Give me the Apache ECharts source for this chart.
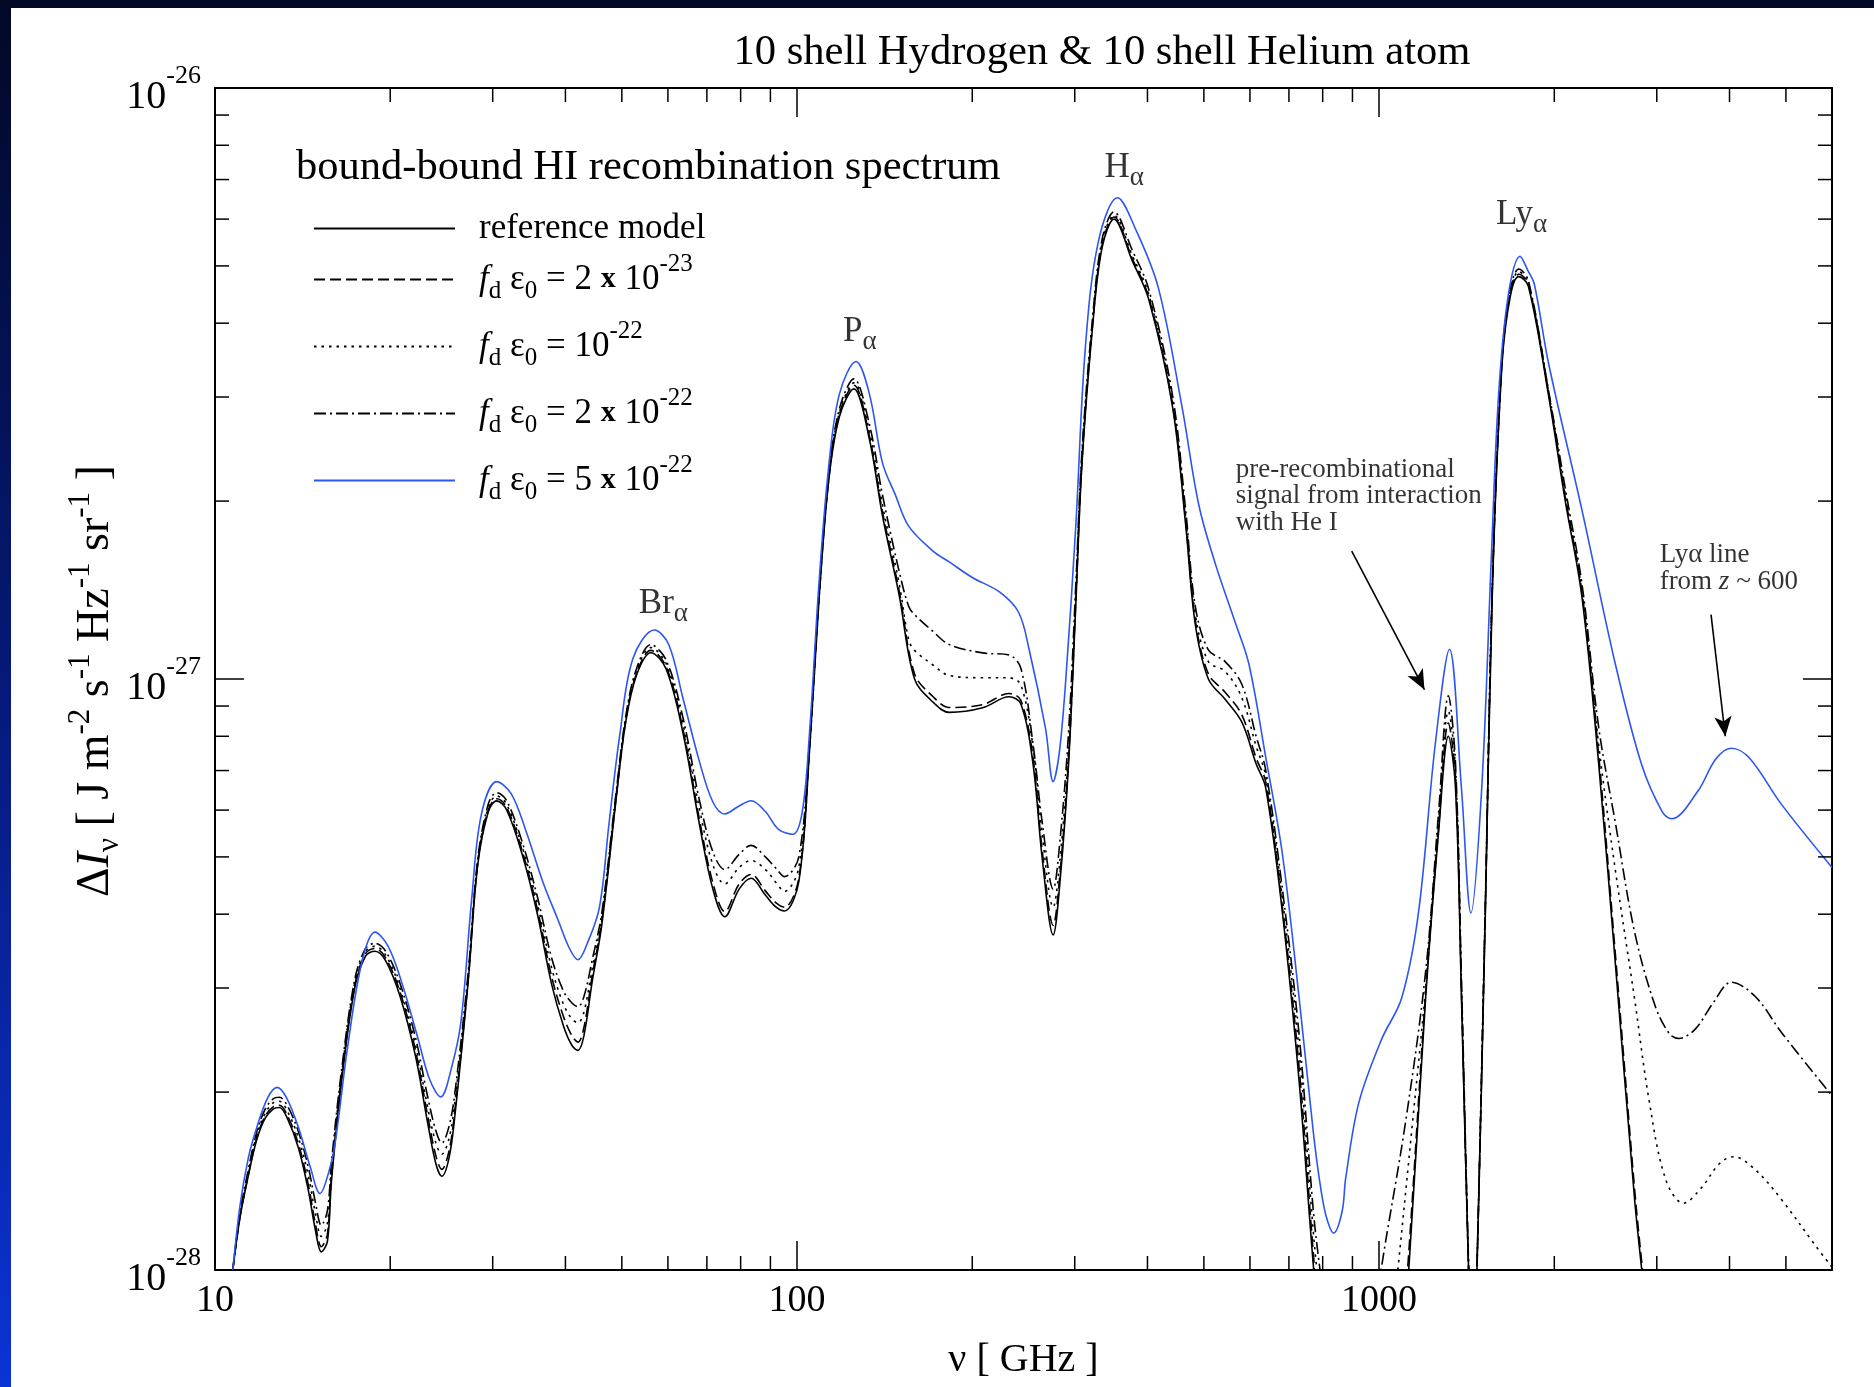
<!DOCTYPE html>
<html><head><meta charset="utf-8">
<script src="https://cdn.jsdelivr.net/npm/echarts@6/dist/echarts.min.js"></script>
<style>html,body{margin:0;padding:0;background:#fff}#c{width:1874px;height:1387px}</style>
</head><body><div id="c"></div>
<script>
// nu in GHz ; Delta I_nu in units of 1e-27 J m^-2 s^-1 Hz^-1 sr^-1
const refModel = [[10.73,0.100],[11.04,0.1227],[11.41,0.1444],[11.79,0.1659],[12.19,0.1805],[12.60,0.1874],[12.90,0.1884],[13.34,0.1798],[13.92,0.1606],[14.45,0.1372],[14.87,0.1171],[15.23,0.1073],[15.60,0.1118],[15.85,0.1411],[16.50,0.2086],[17.38,0.300],[18.14,0.3398],[18.83,0.3463],[19.65,0.3335],[20.80,0.2902],[22.11,0.2298],[23.18,0.1780],[23.96,0.1513],[24.53,0.1441],[25.24,0.1548],[25.84,0.1831],[27.22,0.3068],[28.27,0.4842],[29.49,0.5966],[30.48,0.622],[31.66,0.602],[33.67,0.5069],[35.80,0.4003],[37.89,0.3040],[39.72,0.2583],[41.05,0.2398],[42.03,0.2353],[43.03,0.249],[44.48,0.3082],[46.19,0.3837],[48.90,0.628],[50.78,0.846],[52.97,1.014],[56.08,1.108],[59.62,1.038],[63.68,0.811],[68.05,0.564],[71.68,0.441],[75.14,0.396],[79.53,0.441],[83.37,0.460],[88.23,0.431],[92.06,0.411],[95.16,0.405],[100.7,0.454],[105.1,0.760],[109.1,1.366],[113.4,2.174],[118.3,2.784],[125.2,3.097],[133.1,2.549],[140.2,1.891],[149.8,1.385],[159.2,1.0],[171.0,0.915],[182.6,0.878],[208.4,0.894],[231.2,0.933],[242.4,0.907],[254.2,0.722],[263.9,0.495],[275.4,0.369],[283.3,0.46],[292.9,0.7254],[301.3,1.341],[308.6,2.30],[321.9,3.943],[334.3,5.374],[350.4,5.999],[376.2,5.115],[401.9,4.393],[441.7,2.888],[465.3,1.822],[483.2,1.239],[509.0,1.0],[543.8,0.924],[580.9,0.846],[614.8,0.7186],[638.5,0.6547],[682.3,0.402],[728.8,0.2086],[771.5,0.101],[793.6,0.077],[1104.4,0.0846],[1125.2,0.101],[1202.3,0.2888],[1266.4,0.5564],[1315.2,0.80],[1352.9,0.6547],[1385.3,0.2888],[1424.5,0.101],[1438.1,0.0846],[1459,0.0846],[1473.2,0.101],[1522.6,0.402],[1566.4,1.444],[1626.6,3.415],[1681.5,4.452],[1737.8,4.796],[1805.3,4.620],[1955.8,3.012],[2089,2.0],[2232,1.373],[2385,0.715],[2548,0.3275],[2748,0.1316],[2827,0.100],[2894,0.0807]];

const fd2e23 = [[10.73,0.100],[11.04,0.123],[11.41,0.145],[11.79,0.167],[12.19,0.182],[12.60,0.189],[12.90,0.190],[13.34,0.182],[13.92,0.163],[14.45,0.140],[14.87,0.120],[15.23,0.1095],[15.60,0.115],[15.85,0.144],[16.50,0.211],[17.38,0.303],[18.14,0.343],[18.83,0.350],[19.65,0.337],[20.80,0.295],[22.11,0.235],[23.18,0.183],[23.96,0.156],[24.53,0.148],[25.24,0.159],[25.84,0.187],[27.22,0.310],[28.27,0.487],[29.49,0.601],[30.48,0.627],[31.66,0.608],[33.67,0.514],[35.80,0.408],[37.89,0.313],[39.72,0.268],[41.05,0.249],[42.03,0.243],[43.03,0.257],[44.48,0.315],[46.19,0.389],[48.90,0.632],[50.78,0.851],[52.97,1.02],[56.08,1.118],[59.62,1.048],[63.68,0.822],[68.05,0.575],[71.68,0.452],[75.14,0.404],[79.53,0.450],[83.37,0.467],[88.23,0.438],[92.06,0.418],[95.16,0.411],[100.7,0.46],[105.1,0.765],[109.1,1.372],[113.4,2.185],[118.3,2.81],[125.2,3.14],[133.1,2.58],[140.2,1.92],[149.8,1.41],[159.2,1.02],[171.0,0.935],[182.6,0.895],[208.4,0.905],[231.2,0.945],[242.4,0.92],[254.2,0.74],[263.9,0.51],[275.4,0.383],[283.3,0.475],[292.9,0.74],[301.3,1.36],[308.6,2.33],[321.9,3.98],[334.3,5.42],[350.4,6.05],[376.2,5.16],[401.9,4.43],[441.7,2.92],[465.3,1.85],[483.2,1.26],[509.0,1.02],[543.8,0.95],[580.9,0.87],[614.8,0.735],[638.5,0.67],[682.3,0.41],[728.8,0.22],[771.5,0.106],[793.6,0.08],[1100,0.085],[1120,0.101],[1202.3,0.295],[1266.4,0.565],[1315.2,0.842],[1352.9,0.675],[1385.3,0.295],[1424.5,0.101],[1440,0.08],[1459,0.08],[1473.2,0.101],[1522.6,0.41],[1566.4,1.46],[1626.6,3.45],[1681.5,4.50],[1737.8,4.84],[1805.3,4.66],[1955.8,3.05],[2089,2.03],[2232,1.40],[2385,0.74],[2548,0.34],[2748,0.137],[2835,0.100],[2900,0.08]];

const fd1e22 = [[10.73,0.100],[11.04,0.124],[11.41,0.146],[11.79,0.169],[12.19,0.184],[12.60,0.192],[12.90,0.193],[13.34,0.185],[13.92,0.167],[14.45,0.145],[14.87,0.125],[15.23,0.114],[15.60,0.120],[15.85,0.148],[16.50,0.214],[17.38,0.306],[18.14,0.346],[18.83,0.353],[19.65,0.341],[20.80,0.299],[22.11,0.240],[23.18,0.189],[23.96,0.164],[24.53,0.157],[25.24,0.167],[25.84,0.193],[27.22,0.314],[28.27,0.491],[29.49,0.607],[30.48,0.634],[31.66,0.615],[33.67,0.522],[35.80,0.417],[37.89,0.324],[39.72,0.281],[41.05,0.266],[42.03,0.262],[43.03,0.273],[44.48,0.324],[46.19,0.395],[48.90,0.638],[50.78,0.857],[52.97,1.03],[56.08,1.13],[59.62,1.06],[63.68,0.84],[68.05,0.60],[71.68,0.485],[75.14,0.450],[79.53,0.480],[83.37,0.493],[88.23,0.476],[92.06,0.452],[95.16,0.437],[100.7,0.48],[105.1,0.78],[109.1,1.385],[113.4,2.20],[118.3,2.83],[125.2,3.17],[133.1,2.63],[140.2,1.97],[149.8,1.45],[155.5,1.166],[159.2,1.118],[171.0,1.057],[182.6,1.014],[208.4,1.005],[231.2,1.005],[242.4,0.977],[254.2,0.771],[263.9,0.5436],[275.4,0.411],[283.3,0.50],[292.9,0.77],[301.3,1.40],[308.6,2.37],[321.9,4.02],[334.3,5.47],[350.4,6.09],[376.2,5.22],[401.9,4.48],[441.7,2.95],[465.3,1.88],[483.2,1.29],[509.0,1.07],[543.8,1.03],[580.9,0.93],[614.8,0.77],[638.5,0.686],[682.3,0.425],[728.8,0.235],[771.5,0.115],[793.6,0.088],[815,0.075],[1050,0.08],[1078,0.101],[1141,0.177],[1202.3,0.30],[1266.4,0.58],[1315.2,0.882],[1352.9,0.70],[1385.3,0.30],[1424.5,0.102],[1440,0.08],[1459,0.08],[1473.2,0.102],[1522.6,0.415],[1566.4,1.47],[1626.6,3.47],[1681.5,4.54],[1737.8,4.89],[1805.3,4.68],[1955.8,3.04],[2089,2.05],[2232.4,1.404],[2385,0.771],[2548,0.4728],[2748,0.2874],[2908,0.1945],[3107,0.1424],[3335,0.1297],[3580,0.1378],[3842,0.1513],[4066,0.1555],[4429,0.1478],[4913,0.1316],[5607,0.1103],[6000,0.1011]];

const fd2e22 = [[10.73,0.100],[11.04,0.125],[11.41,0.148],[11.79,0.171],[12.19,0.187],[12.60,0.195],[12.90,0.196],[13.34,0.189],[13.92,0.171],[14.45,0.150],[14.87,0.1305],[15.23,0.119],[15.60,0.126],[15.85,0.152],[16.50,0.218],[17.38,0.310],[18.14,0.350],[18.83,0.357],[19.65,0.346],[20.80,0.305],[22.11,0.247],[23.18,0.197],[23.96,0.172],[24.53,0.164],[25.24,0.175],[25.84,0.200],[27.22,0.318],[28.27,0.495],[29.49,0.615],[30.48,0.642],[31.66,0.624],[33.67,0.532],[35.80,0.428],[37.89,0.337],[39.72,0.296],[41.05,0.283],[42.03,0.279],[43.03,0.290],[44.48,0.335],[46.19,0.402],[48.90,0.645],[50.78,0.865],[52.97,1.04],[56.08,1.143],[59.62,1.075],[63.68,0.86],[68.05,0.62],[71.68,0.51],[75.14,0.476],[79.53,0.505],[83.37,0.523],[88.23,0.50],[92.06,0.478],[95.16,0.463],[100.7,0.50],[105.1,0.79],[109.1,1.40],[113.4,2.22],[118.3,2.87],[125.2,3.22],[133.1,2.70],[140.2,2.05],[149.8,1.52],[155.5,1.328],[159.2,1.285],[171.0,1.205],[182.6,1.144],[208.4,1.107],[231.2,1.098],[242.4,1.043],[254.2,0.78],[263.9,0.57],[275.4,0.441],[283.3,0.54],[292.9,0.82],[301.3,1.45],[308.6,2.42],[321.9,4.08],[334.3,5.55],[350.4,6.17],[376.2,5.33],[401.9,4.57],[441.7,3.02],[465.3,1.93],[483.2,1.33],[509.0,1.12],[543.8,1.07],[580.9,0.98],[614.8,0.80],[638.5,0.702],[682.3,0.44],[728.8,0.25],[771.5,0.125],[793.6,0.098],[815,0.08],[980,0.08],[1009.5,0.101],[1109.5,0.177],[1202.3,0.32],[1266.4,0.60],[1315.2,0.937],[1352.9,0.72],[1385.3,0.31],[1424.5,0.104],[1440,0.08],[1459,0.08],[1473.2,0.103],[1522.6,0.42],[1566.4,1.48],[1626.6,3.50],[1681.5,4.58],[1737.8,4.94],[1805.3,4.72],[1955.8,3.07],[2089,2.1],[2232.4,1.444],[2385,0.826],[2548,0.5695],[2748,0.373],[2977,0.2808],[3151,0.2512],[3273,0.2465],[3496,0.2559],[3753,0.2835],[4028,0.3068],[4429,0.2902],[4913,0.2523],[6000,0.1972]];

const fd5e22 = [[10.73,0.100],[11.04,0.1285],[11.41,0.1548],[11.79,0.1739],[12.31,0.1954],[12.79,0.2037],[13.28,0.1954],[13.92,0.1739],[14.59,0.149],[15.15,0.1347],[15.51,0.1411],[16.03,0.1607],[16.89,0.2375],[17.88,0.332],[18.83,0.373],[19.84,0.3528],[20.99,0.304],[22.32,0.2465],[23.40,0.2096],[24.42,0.1963],[25.48,0.2196],[26.46,0.2631],[27.61,0.4249],[28.67,0.5884],[30.48,0.6704],[32.27,0.640],[34.15,0.5564],[36.65,0.4514],[38.79,0.3926],[40.67,0.3496],[42.03,0.335],[43.65,0.3577],[45.77,0.4113],[47.53,0.5695],[49.59,0.8035],[52.23,1.082],[56.88,1.210],[60.19,1.144],[63.68,0.928],[68.05,0.722],[71.68,0.6193],[75.14,0.591],[79.14,0.608],[83.37,0.6224],[88.23,0.5966],[92.93,0.5564],[98.35,0.5462],[102.1,0.5966],[105.1,0.815],[109.1,1.458],[113.4,2.299],[118.3,3.04],[126.3,3.446],[133.1,3.04],[140.2,2.321],[147.6,2.047],[155.5,1.814],[171.0,1.648],[182.6,1.578],[200.0,1.485],[222.7,1.404],[240.2,1.297],[250.4,1.123],[267.3,0.8233],[275.4,0.6704],[282.0,0.746],[289.3,0.986],[301.3,1.822],[312.9,3.644],[329.6,5.512],[355.4,6.52],[381.5,5.774],[417.4,4.598],[458.6,2.888],[490.0,1.972],[523.6,1.563],[567.3,1.239],[597.5,1.06],[637.9,0.742],[682.3,0.5047],[728.8,0.2888],[771.5,0.1699],[793.6,0.1378],[812.2,0.1227],[835.6,0.1155],[863.9,0.1256],[876.3,0.143],[922.8,0.1918],[1009.5,0.2454],[1093.8,0.2888],[1168.5,0.402],[1248.6,0.774],[1321.3,1.123],[1385,0.6547],[1438.1,0.402],[1501,0.6547],[1558.8,1.60],[1603.5,2.998],[1665.4,4.43],[1746.6,5.19],[1805.3,4.89],[1848,4.66],[1955.8,3.415],[2232.4,1.927],[2548,1.057],[2827,0.715],[3064,0.5966],[3181.1,0.580],[3528,0.6457],[3789,0.732],[4028,0.7634],[4324,0.7357],[4913,0.6136],[6000,0.48]];

const seriesNames = ['reference model', 'fd e0 = 2 x 10^-23', 'fd e0 = 10^-22', 'fd e0 = 2 x 10^-22', 'fd e0 = 5 x 10^-22'];
const legendTexts = [
  '{r|reference model}',
  '{f|f}{s|d}{n| ε}{s|0}{n| = 2 }{b|x}{n| 10}{p|-23}',
  '{f|f}{s|d}{n| ε}{s|0}{n| = 10}{p|-22}',
  '{f|f}{s|d}{n| ε}{s|0}{n| = 2 }{b|x}{n| 10}{p|-22}',
  '{f|f}{s|d}{n| ε}{s|0}{n| = 5 }{b|x}{n| 10}{p|-22}'
];
const yAxisTitle = '{n|Δ}{i|I}{s|ν}{n| [ J m}{p|-2}{n| s}{p|-1}{n| Hz}{p|-1}{n| sr}{p|-1}{n| ]}';
const xMinorTicks = [20,30,40,50,60,70,80,90,200,300,400,500,600,700,800,900,2000,3000,4000,5000];
const yMinorTicks = [0.2,0.3,0.4,0.5,0.6,0.7,0.8,0.9,2,3,4,5,6,7,8,9];
const peakLabels = [[53.48,1.34,'Br'],[119.9,3.87,'P'],[337.5,7.32,'H'],[1588.8,6.11,'Ly']];
const notes = [[567.4,2.039,'{t|pre-recombinational}\n{t|signal from interaction}\n{t|with He I}'],[3034,1.538,'{t|Lyα line}\n{t|from }{z|z}{t| ~ 600}']];
const arrows = [[[897.4,1.645],[1196.6,0.959]],[[3718,1.285],[3934,0.80]]];

const F = 'Liberation Serif, "Times New Roman", serif';
const styles = [
  {color:'#000', type:'solid'},
  {color:'#000', type:[11,5]},
  {color:'#000', type:[2.5,5]},
  {color:'#000', type:[12,4,2,4]},
  {color:'#2c55f2', type:'solid'}
];
const datasets = [refModel, fd2e23, fd1e22, fd2e22, fd5e22];

const chart = echarts.init(document.getElementById('c'), null, {renderer:'canvas'});
const isPow10 = v => Math.abs(Math.log10(v) - Math.round(Math.log10(v))) < 1e-6;
const axisLineStyle = {color:'#000', width:2};
const tickStyle = {show:true, inside:true, length:29, lineStyle:{color:'#000', width:1.5}};

const series = datasets.map((d, i) => ({
  type:'line', name: seriesNames[i], data: d, symbol:'none', smooth:0.35, clip:true,
  lineStyle:{color:styles[i].color, width:1.6, type:styles[i].type},
  itemStyle:{color:styles[i].color}, silent:true, z: i === 4 ? 4 : 3,
  emphasis:{disabled:true}
}));

series.push({
  type:'custom', name:'xminor', silent:true, z:5,
  data: xMinorTicks.map(v => [v, 1]),
  renderItem: (params, api) => {
    const cs = params.coordSys;
    const x = api.coord([api.value(0), 1])[0];
    const b = cs.y + cs.height;
    return {type:'group', children:[
      {type:'line', shape:{x1:x, y1:b, x2:x, y2:b-14}, style:{stroke:'#000', lineWidth:1.5}},
      {type:'line', shape:{x1:x, y1:cs.y, x2:x, y2:cs.y+14}, style:{stroke:'#000', lineWidth:1.5}}
    ]};
  }
});
series.push({
  type:'custom', name:'yminor', silent:true, z:5,
  data: yMinorTicks.map(v => [100, v]),
  renderItem: (params, api) => {
    const cs = params.coordSys;
    const y = api.coord([100, api.value(1)])[1];
    const r = cs.x + cs.width;
    return {type:'group', children:[
      {type:'line', shape:{x1:cs.x, y1:y, x2:cs.x+14, y2:y}, style:{stroke:'#000', lineWidth:1.5}},
      {type:'line', shape:{x1:r, y1:y, x2:r-14, y2:y}, style:{stroke:'#000', lineWidth:1.5}}
    ]};
  }
});
series.push({
  type:'scatter', name:'peaks', silent:true, symbolSize:0, z:6,
  data: peakLabels.map(p => ({value:[p[0], p[1]], label:{formatter:'{m|' + p[2] + '}{a|α}'}})),
  label:{show:true, position:[0,0], align:'left', verticalAlign:'middle', color:'#000',
    rich:{m:{fontFamily:F, fontSize:35, color:'#000'}, a:{fontFamily:F, fontSize:27, color:'#000', padding:[20,0,0,0]}}}
});
series.push({
  type:'scatter', name:'notes', silent:true, symbolSize:0, z:6,
  data: notes.map(p => ({value:[p[0], p[1]], label:{formatter:p[2]}})),
  label:{show:true, position:[0,0], align:'left', verticalAlign:'middle', color:'#000',
    rich:{t:{fontFamily:F, fontSize:27, lineHeight:26.5, color:'#000'}, z:{fontFamily:F, fontSize:27, lineHeight:26.5, fontStyle:'italic', color:'#000'}}},
  markLine:{silent:true, symbol:['none','arrow'], symbolSize:[13,20], animation:false,
    lineStyle:{color:'#000', width:1.6, type:'solid'}, label:{show:false},
    data: arrows.map(a => [{coord:a[0]}, {coord:a[1]}])}
});

const legendRich = {
  r:{fontFamily:F, fontSize:35, color:'#000'},
  f:{fontFamily:F, fontSize:35, fontStyle:'italic', color:'#000'},
  n:{fontFamily:F, fontSize:35, color:'#000'},
  b:{fontFamily:F, fontSize:30, fontWeight:'bold', color:'#000'},
  s:{fontFamily:F, fontSize:25, color:'#000', padding:[24,0,0,0]},
  p:{fontFamily:F, fontSize:25, color:'#000', padding:[0,0,30,0]}
};
const legendBase = {
  orient:'vertical', left:313, padding:0, itemWidth:141, itemHeight:2,
  selectedMode:false, itemStyle:{opacity:0},
  formatter: name => legendTexts[seriesNames.indexOf(name)],
  textStyle:{fontFamily:F, fontSize:35, color:'#000', padding:[0,0,0,19], rich:legendRich}
};

chart.setOption({
  animation:false,
  backgroundColor:'#fff',
  textStyle:{fontFamily:F},
  title:[
    {text:'10 shell Hydrogen & 10 shell Helium atom', left:1097, top:26, textAlign:'center',
      textStyle:{fontFamily:F, fontSize:42.6, fontWeight:'normal', color:'#000'}},
    {text:'bound-bound HI recombination spectrum', left:291, top:141,
      textStyle:{fontFamily:F, fontSize:42.5, fontWeight:'normal', color:'#000'}}
  ],
  graphic:[
    {type:'rect', x:0, y:0, shape:{width:1874, height:8}, style:{fill:'#020926'}, z:100},
    {type:'rect', x:0, y:0, shape:{width:11, height:1387}, z:100,
      style:{fill:new echarts.graphic.LinearGradient(0,0,0,1,[{offset:0,color:'#020826'},{offset:0.5,color:'#06197a'},{offset:1,color:'#0b33d6'}])}},
    {type:'text', x:96, y:681, rotation:Math.PI/2, z:50,
      style:{text:yAxisTitle, align:'center', verticalAlign:'middle', fill:'#000', fontFamily:F, fontSize:46,
        rich:{
          n:{fontFamily:F, fontSize:46, fill:'#000'},
          i:{fontFamily:F, fontSize:46, fontStyle:'italic', fill:'#000'},
          s:{fontFamily:F, fontSize:31, fill:'#000', padding:[27,0,0,0]},
          p:{fontFamily:F, fontSize:31, fill:'#000', padding:[0,0,31,0]}
        }}}
  ],
  legend:[
    Object.assign({}, legendBase, {top:211, itemGap:0, data:[seriesNames[0]]}),
    Object.assign({}, legendBase, {top:252, itemGap:15, data:seriesNames.slice(1)})
  ],
  grid:{left:215, top:88, right:42, bottom:117, containLabel:false, outerBoundsMode:'none'},
  xAxis:[
    {type:'log', logBase:10, min:10, max:6000, position:'bottom',
      axisLine:{show:true, lineStyle:axisLineStyle}, axisTick:tickStyle, splitLine:{show:false}, minorTick:{show:false},
      axisLabel:{show:true, margin:12, showMinLabel:true, showMaxLabel:true, fontFamily:F, fontSize:38, color:'#000',
        formatter: v => isPow10(v) ? String(Math.round(v)) : ''},
      name:'{n|ν [ GHz ]}', nameLocation:'middle', nameGap:70,
      nameTextStyle:{rich:{n:{fontFamily:F, fontSize:40, color:'#000'}}}},
    {type:'log', logBase:10, min:10, max:6000, position:'top',
      axisLine:{show:true, lineStyle:axisLineStyle}, axisTick:tickStyle, splitLine:{show:false}, axisLabel:{show:false}}
  ],
  yAxis:[
    {type:'log', logBase:10, min:0.1, max:10, position:'left',
      axisLine:{show:true, lineStyle:axisLineStyle}, axisTick:tickStyle, splitLine:{show:false}, minorTick:{show:false},
      axisLabel:{show:true, margin:14, showMinLabel:true, showMaxLabel:true, color:'#000',
        formatter: v => isPow10(v) ? '{b|10}{s|' + (Math.round(Math.log10(v)) - 27) + '}' : '',
        rich:{b:{fontFamily:F, fontSize:40, color:'#000', padding:[18,0,0,0]}, s:{fontFamily:F, fontSize:26, color:'#000', padding:[0,0,24,0]}}}},
    {type:'log', logBase:10, min:0.1, max:10, position:'right',
      axisLine:{show:true, lineStyle:axisLineStyle}, axisTick:tickStyle, splitLine:{show:false}, axisLabel:{show:false}}
  ],
  tooltip:{show:false},
  series: series
});
</script>
</body></html>
